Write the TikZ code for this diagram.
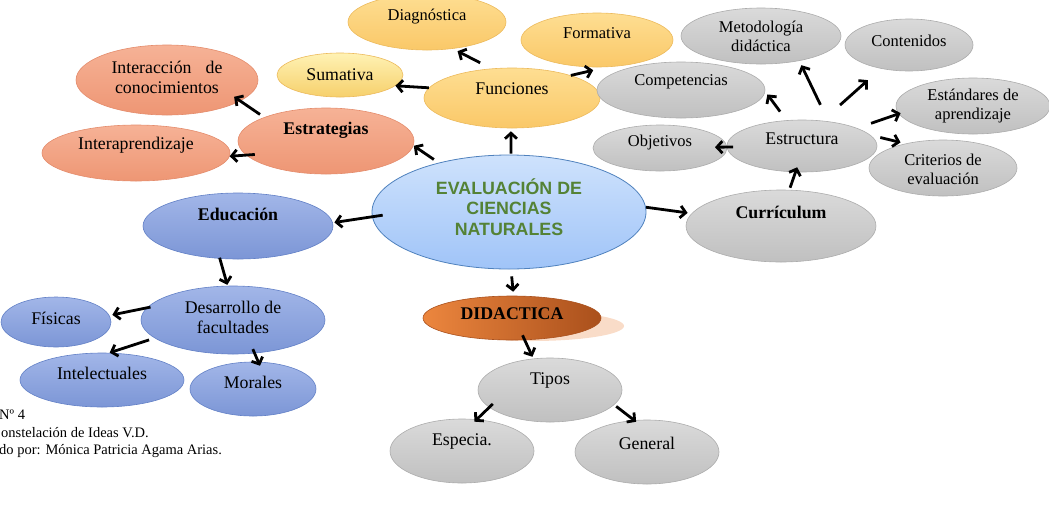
\documentclass[tikz,border=0pt]{standalone}
\usepackage{fontspec}
\setmainfont{Liberation Serif}
\newfontfamily\headfont{Liberation Sans}
\usetikzlibrary{shapes.geometric, arrows.meta}
\definecolor{goldTop}{RGB}{254,222,146}
\definecolor{goldBot}{RGB}{250,200,104}
\definecolor{goldLine}{RGB}{236,186,92}
\definecolor{sumTop}{RGB}{255,242,180}
\definecolor{sumBot}{RGB}{246,208,108}
\definecolor{salTop}{RGB}{246,178,150}
\definecolor{salBot}{RGB}{238,150,116}
\definecolor{salLine}{RGB}{228,140,108}
\definecolor{bluTop}{RGB}{162,182,232}
\definecolor{bluBot}{RGB}{124,150,214}
\definecolor{bluLine}{RGB}{98,128,198}
\definecolor{gryTop}{RGB}{218,218,218}
\definecolor{gryBot}{RGB}{192,192,192}
\definecolor{gryLine}{RGB}{172,172,172}
\definecolor{ctrTop}{RGB}{206,226,252}
\definecolor{ctrBot}{RGB}{160,196,248}
\definecolor{ctrLine}{RGB}{79,129,189}
\definecolor{ctrText}{RGB}{84,130,53}
\definecolor{didLeft}{RGB}{236,134,62}
\definecolor{didRight}{RGB}{170,80,28}
\definecolor{didShade}{RGB}{249,220,200}

\begin{document}
\begin{tikzpicture}[x=1pt, y=-1pt,
    bub/.style={ellipse, inner sep=0pt, line width=0.6pt},
    gold/.style={bub, draw=goldLine, top color=goldTop, bottom color=goldBot},
    sumy/.style={bub, draw=goldLine, top color=sumTop, bottom color=sumBot},
    salmon/.style={bub, draw=salLine, top color=salTop, bottom color=salBot},
    blu/.style={bub, draw=bluLine, top color=bluTop, bottom color=bluBot},
    gry/.style={bub, draw=gryLine, top color=gryTop, bottom color=gryBot},
    hub/.style={bub, draw=ctrLine, line width=0.8pt, top color=ctrTop, bottom color=ctrBot},
    ora/.style={bub, draw=didRight, left color=didLeft, right color=didRight},
    lbl/.style={font=\fontsize{17.8}{20.5}\selectfont, align=center, inner sep=0pt},
    sml/.style={font=\fontsize{16.5}{19}\selectfont, align=center, inner sep=0pt},
    bld/.style={font=\fontsize{17.8}{20.5}\selectfont\bfseries, inner sep=0pt},
    hubtxt/.style={font=\headfont\bfseries\fontsize{17.8}{20.5}\selectfont, text=ctrText, align=center, inner sep=0pt},
    pie/.style={font=\fontsize{14.5}{17}\selectfont, inner sep=0pt},
    arr/.style={line width=2.8pt, -{Straight Barb[length=5.5pt, width=12pt]}}
]
\useasboundingbox (0,0) rectangle (1049,515);
\clip (0,0) rectangle (1049,515);

% funciones
\node[gold, minimum width=158, minimum height=56, label={[sml, yshift=5pt]center:Diagnóstica}] (diag) at (427,22) {};
\node[gold, minimum width=152, minimum height=54, label={[sml, yshift=7pt]center:Formativa}] (form) at (597,40) {};
\node[sumy, minimum width=126, minimum height=44, label={[lbl]center:Sumativa}] (sum) at (340,75) {};
\node[gold, minimum width=176, minimum height=60, label={[lbl, yshift=9pt]center:Funciones}] (fun) at (512,98) {};

% estrategias
\node[salmon, minimum width=182, minimum height=70, label={[lbl, yshift=2.5pt]center:{\makebox[111pt]{Interacción\hfill de}\\conocimientos}}] (inter) at (167,80) {};
\node[salmon, minimum width=176, minimum height=66, label={[bld, yshift=11pt]center:Estrategias}] (estr) at (326,141) {};
\node[salmon, minimum width=188, minimum height=56, label={[lbl, yshift=8pt]center:Interaprendizaje}] (iapr) at (136,153) {};

% educacion
\node[blu, minimum width=190, minimum height=66, label={[bld, yshift=12pt]center:Educación}] (edu) at (238,226) {};
\node[blu, minimum width=184, minimum height=68, label={[lbl, yshift=2.5pt]center:{Desarrollo de\\facultades}}] (desa) at (233,320) {};
\node[blu, minimum width=110, minimum height=50, label={[lbl, yshift=4pt]center:Físicas}] (fis) at (56,322) {};
\node[blu, minimum width=164, minimum height=54, label={[lbl, yshift=7pt]center:Intelectuales}] (intel) at (102,380) {};
\node[blu, minimum width=126, minimum height=54, label={[lbl, yshift=7pt]center:Morales}] (mor) at (253,389) {};

% centro
\node[hub, minimum width=274, minimum height=114, label={[hubtxt, yshift=5pt]center:{EVALUACIÓN DE\\CIENCIAS\\NATURALES}}] (ctr) at (509,212) {};

% curriculum
\node[gry, minimum width=190, minimum height=72, label={[bld, yshift=14pt]center:Currículum}] (curr) at (781,226) {};
\node[gry, minimum width=150, minimum height=52, label={[lbl, yshift=7pt]center:Estructura}] (estru) at (802,146) {};
\node[gry, minimum width=134, minimum height=46, label={[sml, yshift=5pt]center:Objetivos}] (obj) at (660,148) {};
\node[gry, minimum width=168, minimum height=56, label={[sml, yshift=8pt]center:Competencias}] (comp) at (681,90) {};
\node[gry, minimum width=160, minimum height=56, label={[sml]center:{Metodología\\didáctica}}] (met) at (761,36) {};
\node[gry, minimum width=128, minimum height=52, label={[sml, yshift=4pt]center:Contenidos}] (cont) at (909,45) {};
\node[gry, minimum width=154, minimum height=56, label={[sml]center:{Estándares de\\aprendizaje}}] (stand) at (973,106) {};
\node[gry, minimum width=148, minimum height=56, label={[sml, yshift=-1pt]center:{Criterios de\\evaluación}}] (crit) at (943,168) {};

% didactica
\fill[didShade] (532,326) ellipse [x radius=92pt, y radius=15pt];
\node[ora, minimum width=178, minimum height=44, label={[bld, yshift=4pt]center:DIDACTICA}] (did) at (512,318) {};
\node[gry, minimum width=144, minimum height=64, label={[lbl, yshift=10pt]center:Tipos}] (tipos) at (550,390) {};
\node[gry, minimum width=144, minimum height=64, label={[lbl, yshift=10pt]center:Especia.}] (espec) at (462,451) {};
\node[gry, minimum width=144, minimum height=64, label={[lbl, yshift=9pt]center:General}] (gen) at (647,452) {};

% flechas
\draw[arr, shorten <=1pt, shorten >=3pt] (ctr.88) -- (fun.-92);
\draw[arr, shorten <=12.6pt, shorten >=5.3pt] (fun.125.5) -- (diag.-46.3);
\draw[arr] (fun.173.7) -- (sum.-11.4);
\draw[arr, shorten >=14pt] (fun.21.4) -- (form.-70.3);
\draw[arr, shorten <=5.7pt, shorten >=0.4pt] (ctr.145) -- (estr.-3.8);
\draw[arr, shorten <=5pt, shorten >=-7.5pt] (estr.159.8) -- (inter.-16.4);
\draw[arr, shorten <=-8.8pt] (estr.-170) -- (iapr.-2.5);
\draw[arr, shorten <=-10.7pt, shorten >=1.6pt] (ctr.-178) -- (edu.2.3);
\draw[arr, shorten <=-1pt, shorten >=1pt] (edu.-119.9) -- (desa.99.5);
\draw[arr, shorten <=-3.9pt, shorten >=3pt] (desa.172.6) -- (fis.7);
\draw[arr, shorten <=5.8pt, shorten >=0.4pt] (desa.-167.9) -- (intel.75.5);
\draw[arr, shorten <=-4.6pt, shorten >=-4.3pt] (desa.-57.7) -- (mor.79.3);
\draw[arr, shorten <=7pt, shorten >=4pt] (ctr.-88.9) -- (did.86.1);
\draw[arr, shorten <=-5.3pt, shorten >=2pt] (did.-60.8) -- (tipos.118.8);
\draw[arr, shorten <=-5.1pt, shorten >=-3.3pt] (tipos.-164.8) -- (espec.65.5);
\draw[arr, shorten <=2.5pt, shorten >=-2.5pt] (tipos.-13.8) -- (gen.112.4);
\draw[arr, shorten >=4pt] (ctr.2.1) -- (curr.172.1);
\draw[arr, shorten <=2.2pt, shorten >=-5.2pt] (curr.77) -- (estru.-104.3);
\draw[arr, shorten <=69pt, shorten >=55pt] (estru.center) -- (obj.center);
\draw[arr, shorten <=10.8pt, shorten >=3.7pt] (estru.121.2) -- (comp.-1.4);
\draw[arr, shorten <=18.4pt, shorten >=4.8pt] (estru.43.3) -- (met.-33.1);
\draw[arr, shorten <=23.5pt, shorten >=17.3pt] (estru.51) -- (cont.-140.1);
\draw[arr, shorten <=14.7pt, shorten >=-2pt] (estru.18.3) -- (stand.-174.9);
\draw[arr, shorten <=10pt, shorten >=5pt] (estru.9.6) -- (crit.147.9);

% pie
\node[pie, anchor=base west] (pieA) at (-1,419) {Nº 4};
\node[pie, anchor=base west] (pieB) at (1,437) {onstelación de Ideas V.D.};
\node[pie, anchor=base west] (pieC) at (-1,454) {do por: Mónica Patricia Agama Arias.};
\end{tikzpicture}
\end{document}
